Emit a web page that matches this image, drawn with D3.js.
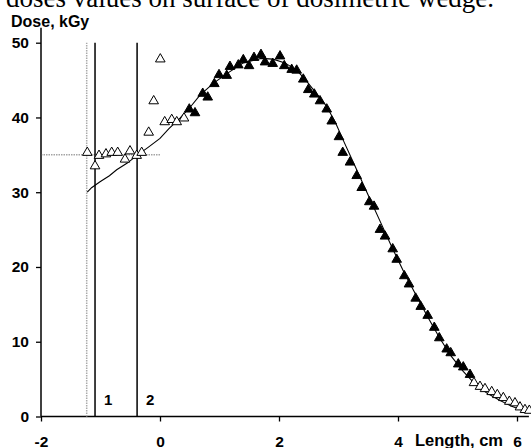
<!DOCTYPE html>
<html><head><meta charset="utf-8">
<script src="https://cdn.jsdelivr.net/npm/d3@7"></script>
<style>body{margin:0;background:#fff}svg{display:block}</style>
</head><body>
<script>
const title = "doses values on surface of dosimetric wedge.";
const yLabel = "Dose, kGy";
const xLabel = "Length, cm";
const xTicks = [-2, 0, 2, 4, 6];
const yTicks = [0, 10, 20, 30, 40, 50];

// open triangles (left part)
const openLeft = [
  [-1.222,35.3],[-1.092,33.5],[-1.025,34.9],[-0.908,35.1],[-0.812,35.3],[-0.711,35.3],
  [-0.588,34.4],[-0.504,35.5],[-0.392,34.9],[-0.308,35.3],[-0.190,38.0],[-0.106,42.2],
  [0.005,47.8],[0.079,39.4],[0.197,39.7],[0.281,39.4],[0.403,39.9]
];
// filled triangles
const filled = [
  [0.492,41.1],[0.588,40.6],[0.718,43.2],[0.802,42.7],[0.913,44.5],[0.992,45.7],
  [1.121,45.6],[1.176,46.8],[1.316,47.0],[1.400,47.7],[1.496,46.9],[1.580,48.0],
  [1.697,48.4],[1.765,47.4],[1.894,47.2],[2.017,48.2],[2.089,46.9],[2.213,46.4],
  [2.297,46.3],[2.408,45.1],[2.492,43.7],[2.593,43.1],[2.689,42.2],[2.802,41.1],
  [2.886,39.5],[3.008,37.4],[3.071,35.3],[3.193,34.0],[3.306,32.2],[3.390,30.6],
  [3.518,28.7],[3.597,28.1],[3.697,25.0],[3.782,24.1],[3.911,22.4],[3.978,21.0],
  [4.106,18.8],[4.185,17.7],[4.297,15.8],[4.382,14.7],[4.499,13.5],[4.610,11.9],
  [4.694,10.5],[4.818,9.0],[4.886,8.5],[5.013,7.0],[5.097,6.6],[5.210,5.6]
];
// open triangles (tail)
const openTail = [
  [5.277,4.5],[5.378,4.0],[5.462,3.7],[5.575,3.3],[5.669,2.9],[5.770,2.5],
  [5.871,2.0],[5.966,1.8],[6.050,1.25],[6.134,0.9],[6.207,0.8]
];
// calculated curve
const curve = [
  [-1.222,30.0],[-1.15,30.6],[-1.008,31.4],[-0.85,32.2],[-0.728,33.0],[-0.55,33.9],[-0.392,34.9],
  [-0.2,36.0],[0.0,37.2],[0.15,38.5],[0.336,39.9],[0.5,41.3],[0.672,43.0],[0.9,44.6],
  [1.15,46.0],[1.4,47.3],[1.7,47.9],[1.9,47.8],[2.1,47.3],[2.3,46.3],[2.45,45.0],
  [2.6,43.5],[2.8,41.5],[2.95,39.3],[3.1,36.6],[3.3,33.1],[3.5,29.6],[3.7,26.1],
  [3.9,22.6],[4.1,19.3],[4.3,16.3],[4.5,13.3],[4.7,10.5],[4.9,8.0],[5.1,6.0],
  [5.3,4.3],[5.5,3.1],[5.7,2.2],[5.9,1.4],[6.1,0.8],[6.28,0.4]
];
const refLineY = 35;      // horizontal dotted reference
const grayLineX = -1.232; // gray dotted vertical
const boundaryX = [-1.092, -0.385]; // vertical lines 1 and 2
const boundaryLabels = ["1", "2"];

const W = 531, H = 448;
const svg = d3.select("body").append("svg").attr("width", W).attr("height", H);
const x = d3.scaleLinear().domain([-2, 6]).range([41, 517]);
const y = d3.scaleLinear().domain([0, 50]).range([416.5, 42.7]);

const bold = "'Liberation Sans', Arial, sans-serif";

// title (cut off at top, as in the source image)
svg.append("text").attr("x", 6).attr("y", 7)
  .attr("font-family", "'Liberation Serif', 'Times New Roman', serif")
  .attr("font-size", 27).attr("fill", "#000").text(title);

// y label
svg.append("text").attr("x", 11).attr("y", 27)
  .attr("font-family", bold).attr("font-weight", "bold").attr("font-size", 16)
  .text(yLabel);

// axes
const gx = svg.append("g").attr("transform", `translate(0,${y(0)})`)
  .call(d3.axisBottom(x).tickValues(xTicks).tickSize(5).tickSizeOuter(0).tickFormat(d3.format("d")));
gx.select(".domain").remove();
gx.selectAll("line").attr("stroke", "#000").attr("stroke-width", 1.3);
gx.selectAll("text").attr("font-family", bold).attr("font-weight", "bold")
  .attr("font-size", 15.5).attr("dy", null).attr("y", 30).attr("fill", "#000")
  .text(d => d < 0 ? "-" + Math.abs(d) : d);
svg.append("line").attr("x1", x(-2)).attr("x2", x(6.2)).attr("y1", y(0)).attr("y2", y(0))
  .attr("stroke", "#000").attr("stroke-width", 1.5);

const gy = svg.append("g").attr("transform", `translate(${x(-2)},0)`)
  .call(d3.axisLeft(y).tickValues(yTicks).tickSize(5).tickSizeOuter(0));
gy.select(".domain").remove();
gy.selectAll("line").attr("stroke", "#000").attr("stroke-width", 1.3);
gy.selectAll("text").attr("font-family", bold).attr("font-weight", "bold")
  .attr("font-size", 15.5).attr("x", -12).attr("fill", "#000");
svg.append("line").attr("x1", x(-2)).attr("x2", x(-2)).attr("y1", y(0)).attr("y2", y(52))
  .attr("stroke", "#000").attr("stroke-width", 1.5);

// x label
svg.append("text").attr("x", 459).attr("y", 446).attr("text-anchor", "middle")
  .attr("font-family", bold).attr("font-weight", "bold").attr("font-size", 16.5).text(xLabel);

// reference lines
svg.append("line").attr("x1", x(-2)).attr("x2", x(0)).attr("y1", y(refLineY)).attr("y2", y(refLineY))
  .attr("stroke", "#555").attr("stroke-width", 0.8).attr("stroke-dasharray", "1.5,1");
svg.append("line").attr("x1", x(grayLineX)).attr("x2", x(grayLineX)).attr("y1", y(0)).attr("y2", y(50))
  .attr("stroke", "#aaa").attr("stroke-width", 1.5).attr("stroke-dasharray", "1.5,1");
boundaryX.forEach((bx, i) => {
  svg.append("line").attr("x1", x(bx)).attr("x2", x(bx)).attr("y1", y(0)).attr("y2", y(50))
    .attr("stroke", "#000").attr("stroke-width", 1.5);
  svg.append("text").attr("x", x(bx) + 9).attr("y", 405)
    .attr("font-family", bold).attr("font-weight", "bold").attr("font-size", 15).text(boundaryLabels[i]);
});

// curve
svg.append("path").datum(curve)
  .attr("d", d3.line().x(d => x(d[0])).y(d => y(d[1])))
  .attr("fill", "none").attr("stroke", "#000").attr("stroke-width", 1.1);

// markers
const tri = d3.symbol().type(d3.symbolTriangle).size(40);
function markers(data, fill) {
  svg.append("g").selectAll("path").data(data).join("path")
    .attr("transform", d => `translate(${x(d[0])},${y(d[1])})`)
    .attr("d", tri)
    .attr("fill", fill).attr("stroke", "#000").attr("stroke-width", 1);
}
markers(openLeft, "#fff");
markers(filled, "#000");
markers(openTail, "#fff");
</script>
</body></html>
